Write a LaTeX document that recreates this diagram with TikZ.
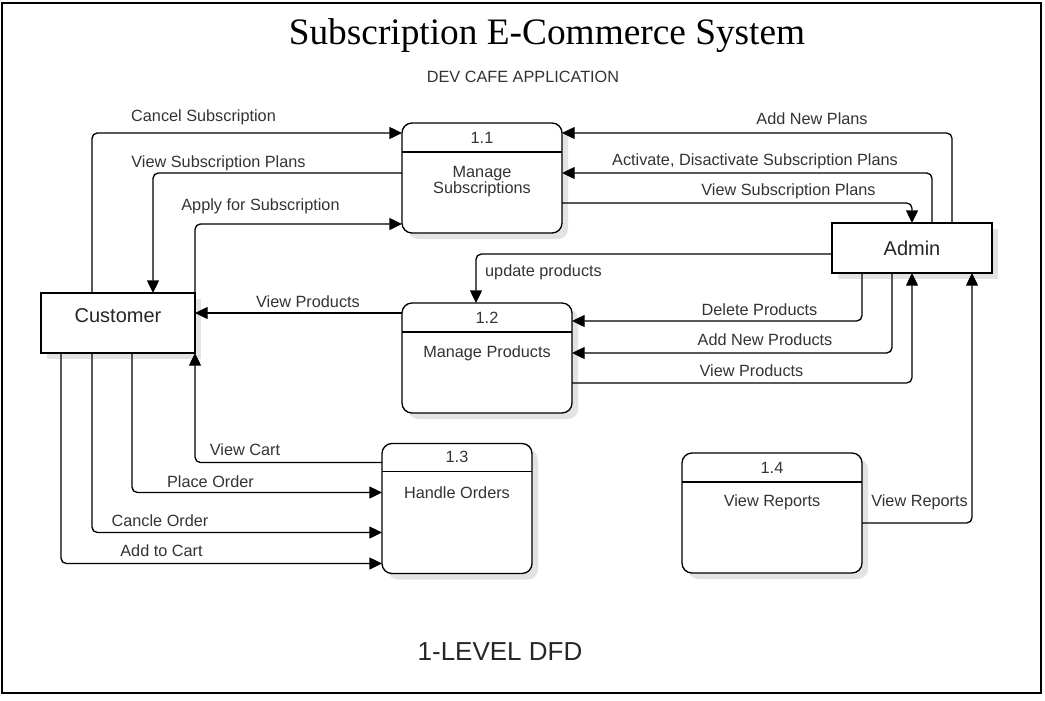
\documentclass[tikz,border=0pt]{standalone}
\usepackage{fontspec}
\setmainfont{Liberation Sans}
\newfontfamily\titlefont{Liberation Serif}
\usetikzlibrary{arrows.meta,calc,shadows}

\begin{document}
\begin{tikzpicture}[x=0.75pt, y=-0.75pt,
  flow/.style={draw, line width=1pt, rounded corners=4pt, -{Triangle[length=9.5pt, width=9pt]}},
  entity/.style={draw, line width=1pt, fill=white, inner sep=0pt, outer sep=0pt, text=black!85, font=\fontsize{15}{18}\selectfont, drop shadow={shadow xshift=4.5pt, shadow yshift=-4.5pt, fill=black!11, opacity=1}},
  proc/.style={draw, line width=1pt, fill=white, rounded corners=7.5pt, inner sep=0pt, outer sep=0pt, drop shadow={shadow xshift=4.5pt, shadow yshift=-4.5pt, fill=black!11, opacity=1}},
  lbl/.style={text=black!80, font=\fontsize{12.2}{14}\selectfont, inner sep=0pt, text height=11.5pt, text depth=2pt},
  ptext/.style={text=black!80, font=\fontsize{12.2}{12}\selectfont, align=center, inner sep=0pt}
]

\useasboundingbox (0, 0) rectangle (1045, 700);

\draw[line width=1pt] (2, 3) rectangle (1041, 693);

\draw (547, 36) node (title) [font=\titlefont\fontsize{28}{32}\selectfont] {Subscription E-Commerce System};

\draw (523, 76) node (app) [lbl] {DEV CAFE APPLICATION};

\draw (500, 652) node (level) [text=black!85, font=\fontsize{19.5}{22}\selectfont] {1-LEVEL DFD};

\draw (118, 323) node (cust) [entity, minimum width=115.5pt, minimum height=45pt, text height=10pt, text depth=11.2pt] {Customer};

\draw (912, 248) node (admin) [entity, minimum width=120pt, minimum height=37.5pt] {Admin};

\draw (482, 178) node (p11) [proc, minimum width=120pt, minimum height=82.5pt] {};

\draw (487, 358) node (p12) [proc, minimum width=127.5pt, minimum height=82.5pt] {};

\draw (457, 508.5) node (p13) [proc, minimum width=112.5pt, minimum height=97.5pt] {};

\draw (772, 513) node (p14) [proc, minimum width=135pt, minimum height=90pt] {};

\draw[line width=1pt] ($(p11.north west)+(0,29)$) -- ($(p11.north east)+(0,29)$);
\draw[line width=1pt] ($(p12.north west)+(0,29)$) -- ($(p12.north east)+(0,29)$);
\draw[line width=1pt] ($(p13.north west)+(0,28)$) -- ($(p13.north east)+(0,28)$);
\draw[line width=1pt] ($(p14.north west)+(0,29)$) -- ($(p14.north east)+(0,29)$);

\draw ($(p11.north)+(0,14.5)$) node (n11) [ptext] {1.1};
\draw ($(p11.north)+(0,59)$) node (t11) [ptext] {Manage\\Subscriptions};
\draw ($(p12.north)+(0,14.5)$) node (n12) [ptext] {1.2};
\draw ($(p12.north)+(0,50)$) node (t12) [ptext] {Manage Products};
\draw ($(p13.north)+(0,13.5)$) node (n13) [ptext] {1.3};
\draw ($(p13.north)+(0,49)$) node (t13) [ptext] {Handle Orders};
\draw ($(p14.north)+(0,14.5)$) node (n14) [ptext] {1.4};
\draw ($(p14.north)+(0,49)$) node (t14) [ptext] {View Reports};

\draw[flow] ($(cust.north)+(-26,0)$) |- ($(p11.north west)+(0,10)$);
\draw[flow] ($(p11.west)+(0,-5)$) -| ($(cust.north)+(35,0)$);
\draw[flow] (cust.north east) |- ($(p11.south west)+(0,-9)$);
\draw[flow] ($(p12.west)+(0,-45)$) -- ($(cust.east)+(0,-10)$);
\draw[flow] ($(p13.north west)+(0,19)$) -| (cust.south east);
\draw[flow] ($(cust.south)+(14,0)$) |- ($(p13.north west)+(0,49)$);
\draw[flow] ($(cust.south)+(-26,0)$) |- ($(p13.north west)+(0,89)$);
\draw[flow] ($(cust.south)+(-57,0)$) |- ($(p13.south west)+(0,-10)$);

\draw[flow] ($(admin.north)+(40,0)$) |- ($(p11.north east)+(0,10)$);
\draw[flow] ($(admin.north)+(20,0)$) |- ($(p11.east)+(0,-5)$);
\draw[flow] ($(p11.east)+(0,25)$) -| (admin.north);
\draw[flow] ($(admin.west)+(0,6)$) -| ($(p12.north)+(-11,0)$);
\draw[flow] ($(admin.south)+(-50,0)$) |- ($(p12.north east)+(0,18)$);
\draw[flow] ($(admin.south)+(-20,0)$) |- ($(p12.east)+(0,-5)$);
\draw[flow] ($(p12.east)+(0,25)$) -| (admin.south);
\draw[flow] ($(p14.east)+(0,10)$) -| ($(admin.south)+(60,0)$);

\draw (203.5, 115) node (lcancel) [lbl] {Cancel Subscription};
\draw (218.5, 161) node (lplans) [lbl] {View Subscription Plans};
\draw (260.5, 204) node (lapply) [lbl] {Apply for Subscription};
\draw (308, 301) node (lprod) [lbl] {View Products};
\draw (245, 449) node (lcart) [lbl] {View Cart};
\draw (210.5, 481) node (lplace) [lbl] {Place Order};
\draw (160, 520) node (lcancle) [lbl] {Cancle Order};
\draw (161.5, 550) node (ladd) [lbl] {Add to Cart};

\draw (812, 118) node (lnewplans) [lbl] {Add New Plans};
\draw (755, 159) node (lactivate) [lbl] {Activate, Disactivate Subscription Plans};
\draw (788.5, 189) node (laplans) [lbl] {View Subscription Plans};
\draw (543.5, 270) node (lupdate) [lbl] {update products};
\draw (759.5, 309) node (ldelete) [lbl] {Delete Products};
\draw (765, 339) node (lnewprod) [lbl] {Add New Products};
\draw (751.5, 370) node (laprod) [lbl] {View Products};
\draw (919.5, 500) node (lreports) [lbl] {View Reports};

\end{tikzpicture}
\end{document}
